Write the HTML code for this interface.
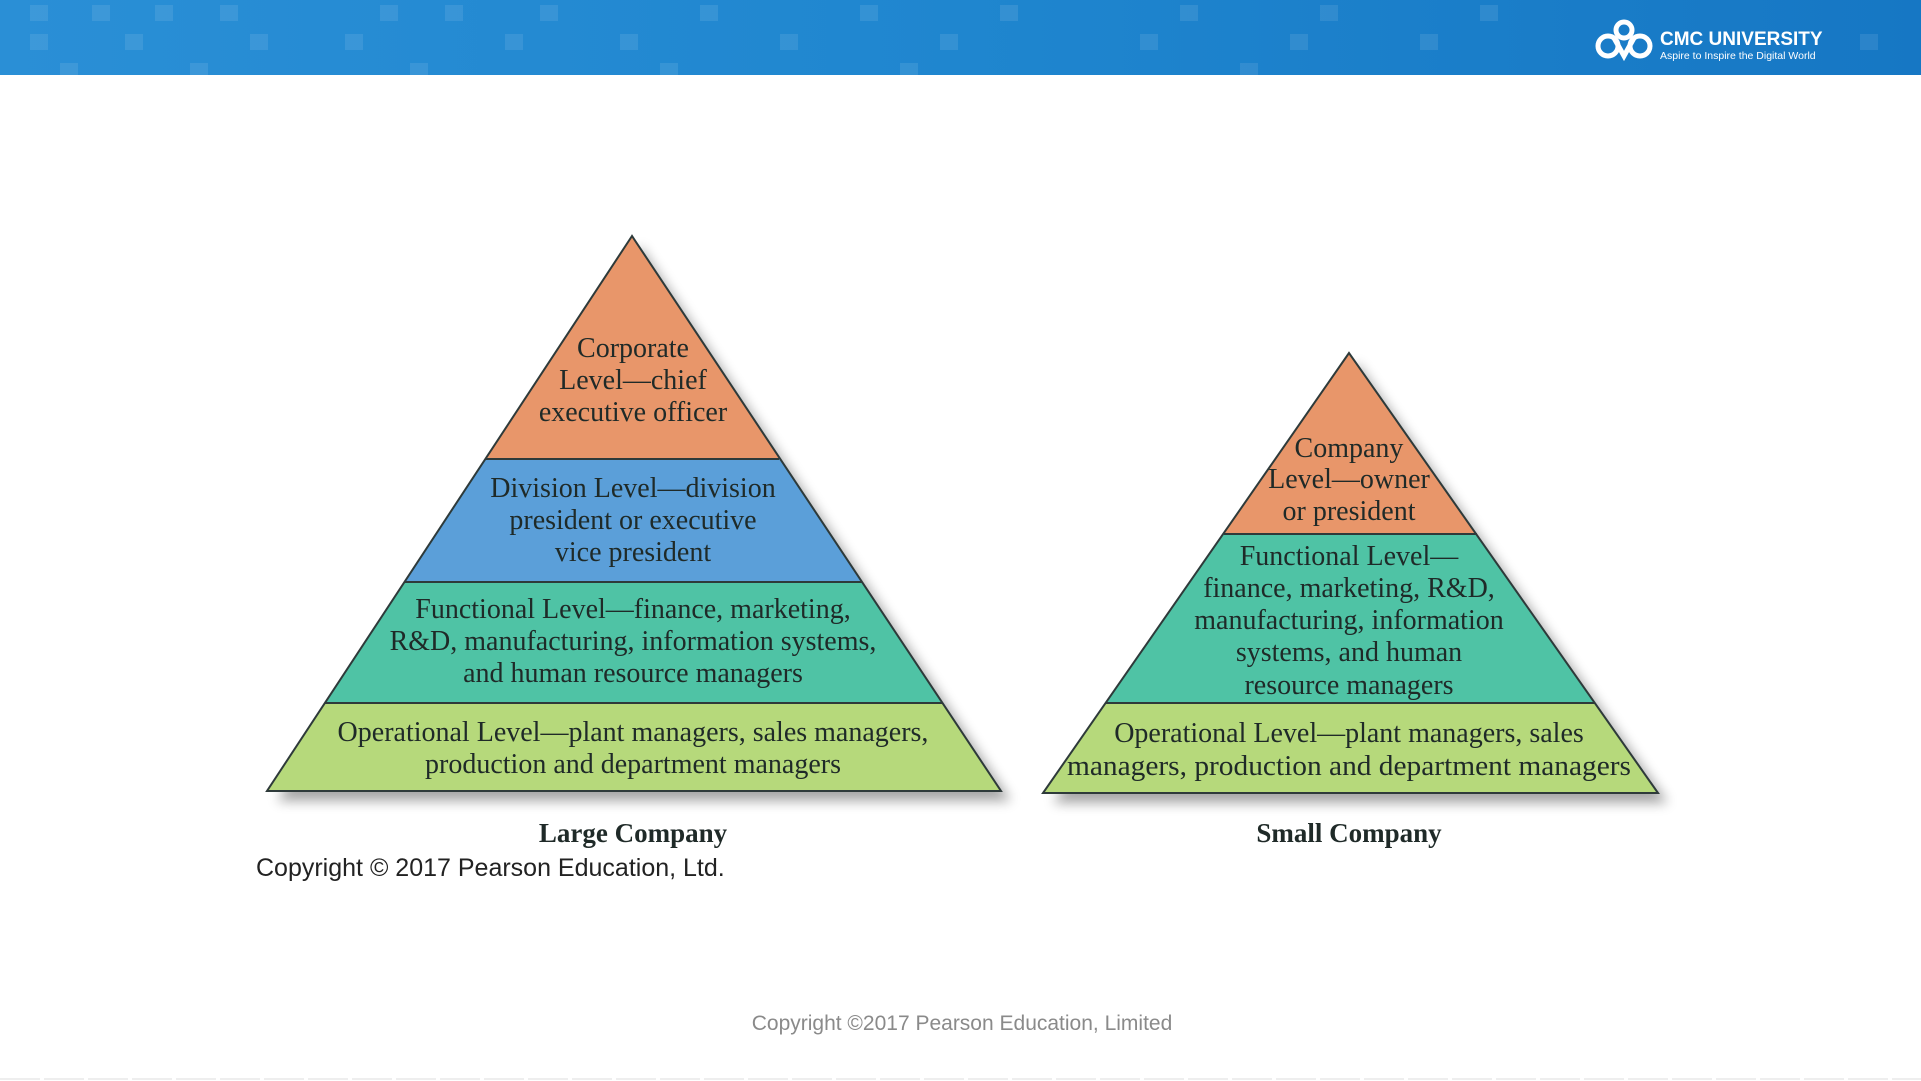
<!DOCTYPE html>
<html><head><meta charset="utf-8"><style>
html,body{margin:0;padding:0;background:#fff;width:1921px;height:1081px;overflow:hidden}
svg{display:block}
</style></head><body>
<svg width="1921" height="1081" viewBox="0 0 1921 1081" xmlns="http://www.w3.org/2000/svg">
<defs>
<linearGradient id="hdr" x1="0" x2="1" y1="0" y2="0">
<stop offset="0" stop-color="#2a8fd6"/><stop offset="0.5" stop-color="#1f86cf"/><stop offset="1" stop-color="#1677c4"/>
</linearGradient>
<filter id="sh" x="-10%" y="-10%" width="130%" height="130%"><feGaussianBlur stdDeviation="6"/></filter>
<clipPath id="cl"><polygon points="632,236 267,791 1001,791"/></clipPath>
<clipPath id="cs"><polygon points="1349,353 1043,793 1658,793"/></clipPath>
</defs>
<rect x="0" y="0" width="1921" height="75" fill="url(#hdr)"/>
<g fill="#ffffff" opacity="0.09">
<rect x="30" y="5" width="18" height="16"/><rect x="92" y="5" width="18" height="16"/><rect x="155" y="5" width="18" height="16"/><rect x="220" y="5" width="18" height="16"/><rect x="380" y="5" width="18" height="16"/><rect x="445" y="5" width="18" height="16"/><rect x="540" y="5" width="18" height="16"/><rect x="700" y="5" width="18" height="16"/><rect x="860" y="5" width="18" height="16"/><rect x="1000" y="5" width="18" height="16"/><rect x="1180" y="5" width="18" height="16"/><rect x="1320" y="5" width="18" height="16"/><rect x="1480" y="5" width="18" height="16"/>
<rect x="30" y="34" width="18" height="16"/><rect x="125" y="34" width="18" height="16"/><rect x="250" y="34" width="18" height="16"/><rect x="345" y="34" width="18" height="16"/><rect x="505" y="34" width="18" height="16"/><rect x="620" y="34" width="18" height="16"/><rect x="780" y="34" width="18" height="16"/><rect x="940" y="34" width="18" height="16"/><rect x="1140" y="34" width="18" height="16"/><rect x="1290" y="34" width="18" height="16"/><rect x="1420" y="34" width="18" height="16"/><rect x="1860" y="34" width="18" height="16"/>
<rect x="60" y="63" width="18" height="12"/><rect x="190" y="63" width="18" height="12"/><rect x="410" y="63" width="18" height="12"/><rect x="660" y="63" width="18" height="12"/><rect x="900" y="63" width="18" height="12"/><rect x="1240" y="63" width="18" height="12"/>
</g>
<g fill="none" stroke="#fff" stroke-width="5">
<circle cx="1608" cy="46" r="10"/><circle cx="1640" cy="46" r="10"/><path d="M1614 38 L1624 56 L1634 38"/><circle cx="1624" cy="30" r="8"/>
</g>
<text x="1660" y="45" font-family="Liberation Sans, sans-serif" font-size="19" font-weight="bold" fill="#fff">CMC UNIVERSITY</text>
<text x="1660" y="59" font-family="Liberation Sans, sans-serif" font-size="10.5" fill="#fff">Aspire to Inspire the Digital World</text>

<polygon points="640,246 277,801 1011,801" fill="#000" opacity="0.35" filter="url(#sh)"/>
<polygon points="1357,363 1053,803 1668,803" fill="#000" opacity="0.35" filter="url(#sh)"/>

<g clip-path="url(#cl)">
<rect x="250" y="230" width="780" height="229" fill="#e8966a"/>
<rect x="250" y="459" width="780" height="123" fill="#5b9fd9"/>
<rect x="250" y="582" width="780" height="121" fill="#4fc3a5"/>
<rect x="250" y="703" width="780" height="90" fill="#b6d97b"/>
</g>
<g stroke="#2e3a3a" stroke-width="2" fill="none">
<polygon points="632,236 267,791 1001,791"/>
<line x1="485" y1="459" x2="779" y2="459"/><line x1="404" y1="582" x2="862" y2="582"/><line x1="325" y1="703" x2="943" y2="703"/>
</g>
<g font-family="Liberation Serif, serif" font-size="28" fill="#1f2a28" text-anchor="middle">
<text x="633" y="357">Corporate</text><text x="633" y="389">Level—chief</text><text x="633" y="421">executive officer</text>
<text x="633" y="497">Division Level—division</text><text x="633" y="529">president or executive</text><text x="633" y="561">vice president</text>
<text x="633" y="618">Functional Level—finance, marketing,</text><text x="633" y="650">R&amp;D, manufacturing, information systems,</text><text x="633" y="682">and human resource managers</text>
<text x="633" y="741">Operational Level—plant managers, sales managers,</text><text x="633" y="773">production and department managers</text>
<text x="633" y="842" font-weight="bold" font-size="27">Large Company</text>
</g>
<text x="256" y="876" font-family="Liberation Sans, sans-serif" font-size="25" fill="#222">Copyright © 2017 Pearson Education, Ltd.</text>

<g clip-path="url(#cs)">
<rect x="1030" y="340" width="640" height="194" fill="#e8966a"/>
<rect x="1030" y="534" width="640" height="169" fill="#4fc3a5"/>
<rect x="1030" y="703" width="640" height="92" fill="#b6d97b"/>
</g>
<g stroke="#2e3a3a" stroke-width="2" fill="none">
<polygon points="1349,353 1043,793 1658,793"/>
<line x1="1224" y1="534" x2="1477" y2="534"/><line x1="1106" y1="703" x2="1595" y2="703"/>
</g>
<g font-family="Liberation Serif, serif" font-size="28" fill="#1f2a28" text-anchor="middle">
<text x="1349" y="457">Company</text><text x="1349" y="488">Level—owner</text><text x="1349" y="520">or president</text>
<text x="1349" y="565">Functional Level—</text><text x="1349" y="597">finance, marketing, R&amp;D,</text><text x="1349" y="629">manufacturing, information</text><text x="1349" y="661">systems, and human</text><text x="1349" y="694">resource managers</text>
<text x="1349" y="742">Operational Level—plant managers, sales</text><text x="1349" y="775" textLength="564" lengthAdjust="spacingAndGlyphs">managers, production and department managers</text>
<text x="1349" y="842" font-weight="bold" font-size="27">Small Company</text>
</g>

<text x="962" y="1030" font-family="Liberation Sans, sans-serif" font-size="21" fill="#8a8a8a" text-anchor="middle">Copyright ©2017 Pearson Education, Limited</text>
<line x1="0" y1="1079" x2="1921" y2="1079" stroke="#ddd" stroke-width="1" stroke-dasharray="40 4"/>
</svg>
</body></html>
